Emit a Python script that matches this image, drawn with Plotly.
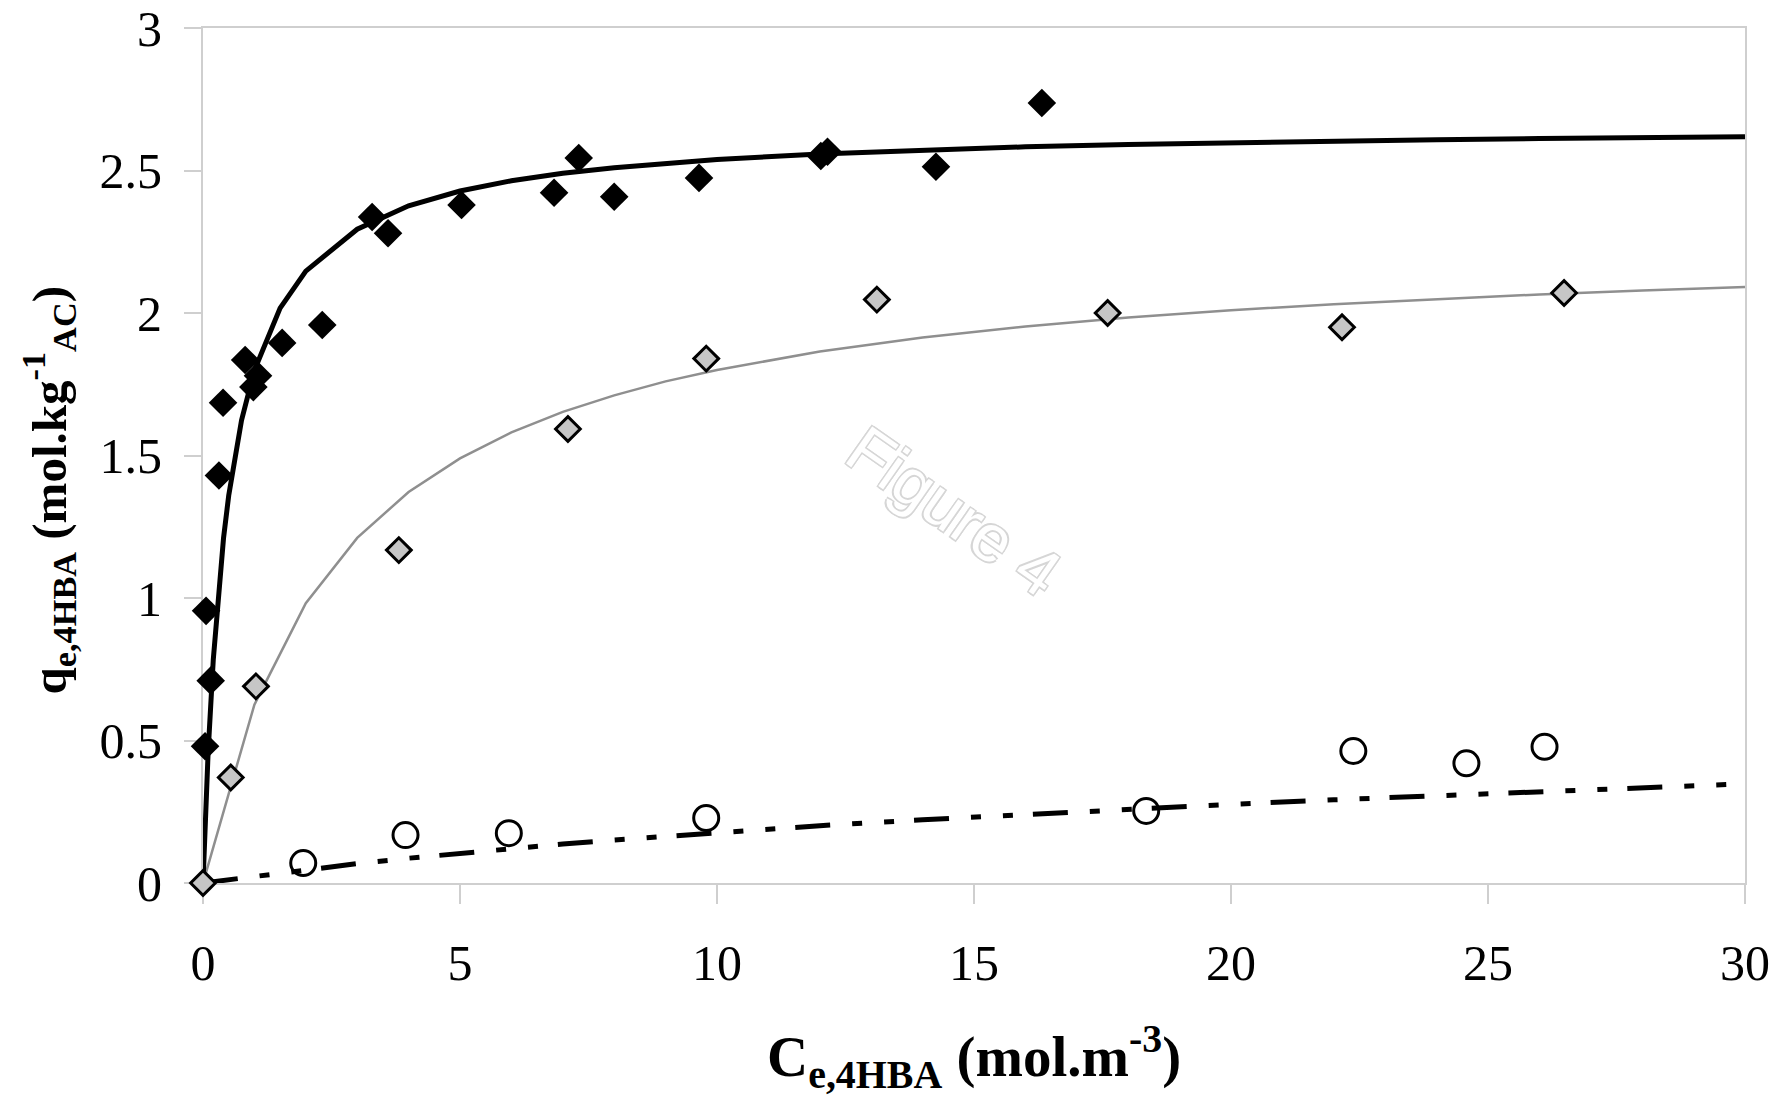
import plotly.graph_objects as go

ac_x = [0.04, 0.15, 0.06, 0.31, 0.39, 0.82, 0.98, 1.07, 1.54, 2.32, 3.29, 3.60, 5.03,
        6.83, 7.31, 8.00, 9.65, 12.02, 12.15, 14.26, 16.32]
ac_y = [0.48, 0.71, 0.955, 1.43, 1.685, 1.835, 1.74, 1.78, 1.895, 1.958, 2.337, 2.28, 2.379,
        2.422, 2.544, 2.408, 2.474, 2.551, 2.566, 2.513, 2.737]

gray_x = [0.0, 0.54, 1.03, 3.81, 7.10, 9.79, 13.11, 17.60, 22.16, 26.48]
gray_y = [0.0, 0.37, 0.69, 1.168, 1.593, 1.84, 2.047, 2.00, 1.95, 2.07]

circ_x = [1.95, 3.94, 5.95, 9.79, 18.35, 22.38, 24.58, 26.10]
circ_y = [0.07, 0.168, 0.175, 0.228, 0.253, 0.463, 0.42, 0.478]

# ---- fitted curves ----
fit1_x = [0, 0.05, 0.1, 0.2, 0.3, 0.4, 0.5, 0.75, 1, 1.5, 2, 3, 4, 5, 6, 7, 8, 9, 10,
          12, 14, 16, 18, 20, 22, 24, 26, 28, 30]
fit1_y = [0, 0.252, 0.46, 0.784, 1.025, 1.211, 1.359, 1.624, 1.799, 2.017, 2.147, 2.294,
          2.376, 2.428, 2.464, 2.490, 2.510, 2.526, 2.539, 2.558, 2.572, 2.583, 2.591,
          2.598, 2.603, 2.608, 2.612, 2.615, 2.618]

fit2_x = [0, 1, 2, 3, 4, 5, 6, 7, 8, 9, 10, 12, 14, 16, 18, 20, 22, 24, 26, 28, 30]
fit2_y = [0, 0.626, 0.982, 1.211, 1.372, 1.490, 1.581, 1.653, 1.711, 1.760, 1.800, 1.865,
          1.914, 1.953, 1.984, 2.010, 2.031, 2.049, 2.065, 2.079, 2.091]

fit3_x = [0, 1, 2, 3, 4, 5, 6, 7, 8, 9, 10, 12, 14, 16, 18, 20, 22, 24, 26, 28, 30]
fit3_y = [0, 0.024, 0.047, 0.068, 0.087, 0.105, 0.121, 0.137, 0.151, 0.164, 0.177, 0.201,
          0.222, 0.241, 0.259, 0.276, 0.292, 0.307, 0.321, 0.335, 0.348]

x_ticks = [0, 5, 10, 15, 20, 25, 30]
y_ticks = [0, 0.5, 1, 1.5, 2, 2.5, 3]
y_ticklabels = ["0", "0.5", "1", "1.5", "2", "2.5", "3"]

SERIF = "Liberation Serif, Times New Roman, serif"

fig = go.Figure()

fig.add_trace(go.Scatter(x=fit3_x, y=fit3_y, mode="lines",
                         line=dict(color="black", width=5,
                                   dash="35px,22px,10px,22px,10px,20px"),
                         showlegend=False, hoverinfo="skip"))
fig.add_trace(go.Scatter(x=fit2_x, y=fit2_y, mode="lines",
                         line=dict(color="#8f8f8f", width=2.5),
                         showlegend=False, hoverinfo="skip"))
fig.add_trace(go.Scatter(x=fit1_x, y=fit1_y, mode="lines",
                         line=dict(color="black", width=5),
                         showlegend=False, hoverinfo="skip"))

fig.add_trace(go.Scatter(x=circ_x, y=circ_y, mode="markers",
                         marker=dict(symbol="circle-open", size=25, color="black",
                                     line=dict(color="black", width=3)),
                         showlegend=False, cliponaxis=False))
fig.add_trace(go.Scatter(x=ac_x, y=ac_y, mode="markers",
                         marker=dict(symbol="diamond", size=22, color="black",
                                     line=dict(width=0)),
                         showlegend=False, cliponaxis=False))
fig.add_trace(go.Scatter(x=gray_x, y=gray_y, mode="markers",
                         marker=dict(symbol="diamond", size=19, color="#c6c6c6",
                                     line=dict(color="black", width=3)),
                         showlegend=False, cliponaxis=False))

axis_common = dict(showline=True, linecolor="#cfcfcf", linewidth=2, mirror=True,
                   showgrid=False, zeroline=False, ticks="outside",
                   tickcolor="#cfcfcf", tickwidth=2, automargin=False,
                   layer="below traces",
                   tickfont=dict(family=SERIF, size=50, color="black"))

fig.update_xaxes(range=[0, 30], tickmode="array", tickvals=x_ticks,
                 ticktext=[str(v) for v in x_ticks], ticklen=19,
                 ticklabelstandoff=16, **axis_common)
fig.update_yaxes(range=[0, 3], tickmode="array", tickvals=y_ticks,
                 ticktext=y_ticklabels, ticklen=17,
                 ticklabelstandoff=12, **axis_common)

fig.add_annotation(xref="paper", yref="paper", x=0.5, y=-0.203,
                   xanchor="center", yanchor="middle", showarrow=False,
                   text="<b>C<sub>e,4HBA</sub> (mol.m<sup>-3</sup>)</b>",
                   font=dict(family=SERIF, size=57, color="black"))
fig.add_annotation(xref="paper", yref="paper", x=-0.1, y=0.46,
                   xanchor="center", yanchor="middle", showarrow=False,
                   textangle=-90,
                   text="<b>q<sub>e,4HBA</sub> (mol.kg<sup>-1</sup><sub>AC</sub>)</b>",
                   font=dict(family=SERIF, size=49, color="black"))

# watermark
fig.add_annotation(xref="paper", yref="paper", x=0.487, y=0.435,
                   xanchor="center", yanchor="middle", showarrow=False,
                   textangle=35, text="Figure 4",
                   font=dict(family="Liberation Sans, Arial, sans-serif", size=66,
                             color="white",
                             shadow="1.5px 1.5px 0 #d6d6d6, -1.5px -1.5px 0 #d6d6d6, 1.5px -1.5px 0 #d6d6d6, -1.5px 1.5px 0 #d6d6d6"))

fig.update_layout(width=1786, height=1096,
                  margin=dict(l=203, r=41, t=28, b=213),
                  paper_bgcolor="white", plot_bgcolor="white")

fig.write_html("out.html")
